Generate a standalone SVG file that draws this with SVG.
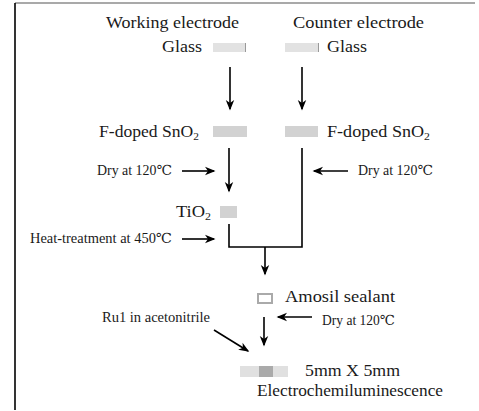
<svg xmlns="http://www.w3.org/2000/svg" width="479" height="411" viewBox="0 0 479 411">
<defs>
<style>
text{font-family:'Liberation Serif','DejaVu Serif',serif;fill:#1a1a1a}
.m{font-size:17px}
.s{font-size:14px}
.sub{font-size:11px}
.c{stroke:#000;stroke-width:1.6;fill:none}
.a{marker-end:url(#ah)}
</style>
<marker id="ah" markerUnits="userSpaceOnUse" viewBox="-10 -5 12 10" refX="0" refY="0" markerWidth="12" markerHeight="10" orient="auto">
<path d="M1.5,0 L-9,-4.2 L-6,0 L-9,4.2 Z" fill="#000"/>
</marker>
</defs>
<rect width="479" height="411" fill="#fff"/>
<g id="frame">
<line x1="15" y1="3" x2="475" y2="3" stroke="#555" stroke-width="1.2"/>
<line x1="15" y1="3" x2="15" y2="410" stroke="#000" stroke-width="1.6"/>
</g>
<g id="connectors">
<line class="c a" x1="230" y1="67" x2="230" y2="109"/>
<line class="c a" x1="302" y1="67" x2="302" y2="109"/>
<line class="c a" x1="229" y1="148" x2="229" y2="191"/>
<polyline class="c" points="302,148 302,247 229,247 229,224"/>
<line class="c a" x1="265" y1="247" x2="265" y2="274"/>
<line class="c a" x1="182" y1="171" x2="214" y2="171"/>
<line class="c a" x1="348" y1="171" x2="314" y2="171"/>
<line class="c a" x1="182" y1="239" x2="214" y2="239"/>
<line class="c a" x1="264" y1="317" x2="264" y2="345"/>
<line class="c a" x1="312" y1="317" x2="278" y2="317"/>
<line class="c a" x1="214" y1="330" x2="248" y2="351"/>
</g>
<g id="title-working"><text class="m" x="106" y="28" textLength="133" lengthAdjust="spacingAndGlyphs">Working electrode</text></g>
<g id="title-counter"><text class="m" x="293" y="28" textLength="131" lengthAdjust="spacingAndGlyphs">Counter electrode</text></g>
<g id="glass-left">
<text class="m" x="162" y="52" textLength="40" lengthAdjust="spacingAndGlyphs">Glass</text>
<rect x="213" y="43" width="33" height="9" fill="#e2e2e2"/>
<line x1="245.5" y1="43" x2="245.5" y2="52" stroke="#999" stroke-width="1"/>
</g>
<g id="glass-right">
<rect x="285" y="43" width="34" height="9" fill="#e2e2e2"/>
<line x1="318.5" y1="43" x2="318.5" y2="52" stroke="#999" stroke-width="1"/>
<text class="m" x="327" y="52" textLength="40" lengthAdjust="spacingAndGlyphs">Glass</text>
</g>
<g id="fto-left">
<text class="m" x="99" y="137" textLength="100" lengthAdjust="spacingAndGlyphs">F-doped SnO<tspan class="sub" dy="3">2</tspan></text>
<rect x="213" y="126" width="34" height="11" fill="#d2d2d2"/>
</g>
<g id="fto-right">
<rect x="285" y="126" width="33" height="11" fill="#d2d2d2"/>
<text class="m" x="327" y="137" textLength="103" lengthAdjust="spacingAndGlyphs">F-doped SnO<tspan class="sub" dy="3">2</tspan></text>
</g>
<g id="dry-left"><text class="s" x="97" y="175" textLength="75" lengthAdjust="spacingAndGlyphs">Dry at 120℃</text></g>
<g id="dry-right"><text class="s" x="358" y="175" textLength="75" lengthAdjust="spacingAndGlyphs">Dry at 120℃</text></g>
<g id="tio2">
<text class="m" x="176" y="217" textLength="35" lengthAdjust="spacingAndGlyphs">TiO<tspan class="sub" dy="3">2</tspan></text>
<rect x="220" y="206" width="17" height="12" fill="#d2d2d2"/>
</g>
<g id="heat"><text class="s" x="30" y="243" textLength="142" lengthAdjust="spacingAndGlyphs">Heat-treatment at 450℃</text></g>
<g id="amosil">
<rect x="258" y="294" width="14" height="9" fill="#fff" stroke="#aaa" stroke-width="2"/>
<text class="m" x="285" y="302" textLength="110" lengthAdjust="spacingAndGlyphs">Amosil sealant</text>
</g>
<g id="ru1"><text class="s" x="102" y="322" textLength="108" lengthAdjust="spacingAndGlyphs">Ru1 in acetonitrile</text></g>
<g id="dry-bottom"><text class="s" x="322" y="325" textLength="73" lengthAdjust="spacingAndGlyphs">Dry at 120℃</text></g>
<g id="cell">
<rect x="240" y="366" width="48" height="11" fill="#e0e0e0"/>
<rect x="259" y="366" width="14" height="11" fill="#aaa"/>
<text class="m" x="305" y="376" textLength="95" lengthAdjust="spacingAndGlyphs">5mm X 5mm</text>
<text class="m" x="257" y="396" textLength="186" lengthAdjust="spacingAndGlyphs">Electrochemiluminescence</text>
</g>
</svg>
